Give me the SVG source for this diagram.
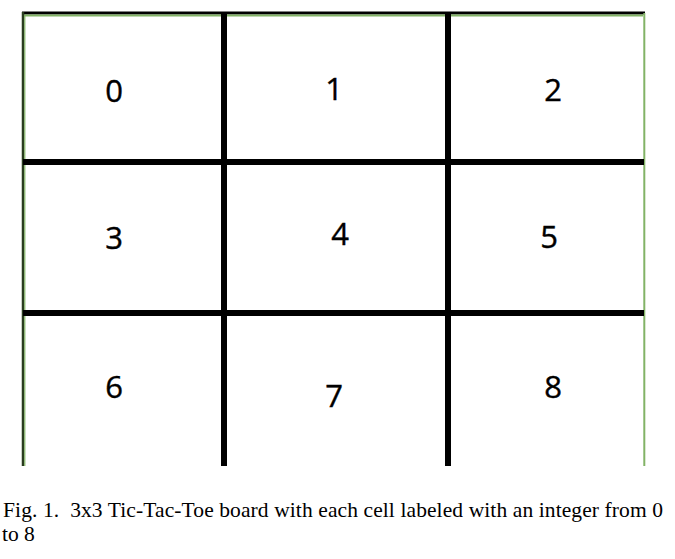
<svg xmlns="http://www.w3.org/2000/svg" width="675" height="559" viewBox="0 0 675 559">
<style>
.d{font-family:"Open Sans","Noto Sans",sans-serif;font-size:31px;fill:#000;text-anchor:middle;stroke:#000;stroke-width:0.4}
.g{stroke:#000;stroke-width:6;fill:none}
.cap{font-family:"Liberation Serif","Times New Roman",serif;font-size:21.5px;fill:#000}
</style>
<rect width="675" height="559" fill="#fff"/>
<g id="frame">
<line x1="22" y1="13" x2="645" y2="13" stroke="#000" stroke-width="3"/>
<line x1="24" y1="15.5" x2="643" y2="15.5" stroke="#82b366" stroke-width="2"/>
<line x1="23" y1="12" x2="23" y2="466" stroke="#2a3d1f" stroke-width="2.5"/>
<line x1="24.8" y1="15" x2="24.8" y2="466" stroke="#82b366" stroke-width="1.2"/>
<line x1="644.3" y1="13" x2="644.3" y2="466" stroke="#82b366" stroke-width="2"/>
</g>
<g id="connectors">
<line class="g" x1="224" y1="14" x2="224" y2="466"/>
<line class="g" x1="448" y1="14" x2="448" y2="466"/>
<line class="g" x1="23" y1="162" x2="644" y2="162"/>
<line class="g" x1="23" y1="313" x2="644" y2="313"/>
</g>
<g id="cell0"><text class="d" x="114" y="102">0</text></g>
<g id="cell1"><text class="d" x="334" y="100">1</text></g>
<g id="cell2"><text class="d" x="553" y="101">2</text></g>
<g id="cell3"><text class="d" x="114" y="249">3</text></g>
<g id="cell4"><text class="d" x="340" y="245">4</text></g>
<g id="cell5"><text class="d" x="549" y="248">5</text></g>
<g id="cell6"><text class="d" x="114" y="398">6</text></g>
<g id="cell7"><text class="d" x="334" y="407">7</text></g>
<g id="cell8"><text class="d" x="553" y="398">8</text></g>
<g id="caption">
<text class="cap" x="3" y="517" textLength="660" lengthAdjust="spacing" xml:space="preserve">Fig. 1.  3x3 Tic-Tac-Toe board with each cell labeled with an integer from 0</text>
<text class="cap" x="2" y="541">to 8</text>
</g>
</svg>
